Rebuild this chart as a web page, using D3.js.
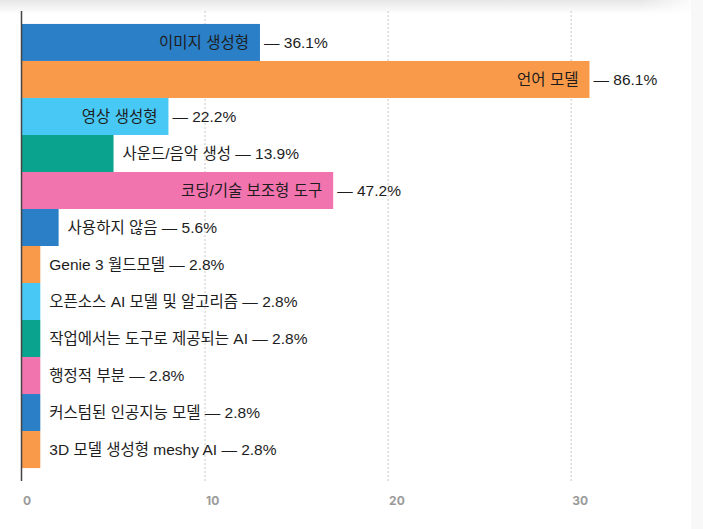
<!DOCTYPE html>
<html>
<head>
<meta charset="utf-8">
<script src="https://cdn.jsdelivr.net/npm/d3@7"></script>
<style>
  html, body { margin: 0; padding: 0; background: #fff; }
  svg { display: block; }
  .lbl { font-family: "Liberation Sans", "Noto Sans CJK KR", sans-serif; font-size: 15.5px; fill: #1d1d1d; }
  .tick-lbl { font-family: Inter, "Noto Sans CJK KR", sans-serif; font-size: 12px; font-weight: 700; fill: #9a9a9a; }
</style>
</head>
<body>
<div id="chart"></div>
<script>
var categories = [
  "이미지 생성형", "언어 모델", "영상 생성형", "사운드/음악 생성", "코딩/기술 보조형 도구",
  "사용하지 않음", "Genie 3 월드모델", "오픈소스 AI 모델 및 알고리즘", "작업에서는 도구로 제공되는 AI",
  "행정적 부분", "커스텀된 인공지능 모델", "3D 모델 생성형 meshy AI"
];
var counts = [13, 31, 8, 5, 17, 2, 1, 1, 1, 1, 1, 1];
var percents = ["36.1%", "86.1%", "22.2%", "13.9%", "47.2%", "5.6%", "2.8%", "2.8%", "2.8%", "2.8%", "2.8%", "2.8%"];
var xTicks = [0, 10, 20, 30];
var palette = ["#2a7fc6", "#f89a4a", "#48c8f5", "#0aa38d", "#f274ae"];

var W = 703, H = 529;
var svg = d3.select("#chart").append("svg").attr("width", W).attr("height", H);

// top shadow of the card above
var defs = svg.append("defs");
var g1 = defs.append("linearGradient").attr("id", "shadowV").attr("x1", 0).attr("y1", 0).attr("x2", 0).attr("y2", 1);
g1.append("stop").attr("offset", "0%").attr("stop-color", "#e6e6e6");
g1.append("stop").attr("offset", "100%").attr("stop-color", "#ffffff");
var g2 = defs.append("linearGradient").attr("id", "fadeH").attr("x1", 0).attr("y1", 0).attr("x2", 1).attr("y2", 0);
g2.append("stop").attr("offset", "0%").attr("stop-color", "#fff").attr("stop-opacity", 0);
g2.append("stop").attr("offset", "100%").attr("stop-color", "#fff").attr("stop-opacity", 1);
svg.append("rect").attr("x", 0).attr("y", 0).attr("width", 700).attr("height", 14).attr("fill", "url(#shadowV)");
svg.append("rect").attr("x", 640).attr("y", 0).attr("width", 60).attr("height", 14).attr("fill", "url(#fadeH)");
svg.append("rect").attr("x", 691).attr("y", 0).attr("width", 12).attr("height", H).attr("fill", "#f8f8f8");

var x = d3.scaleLinear().domain([0, 36]).range([22, 681]);
var y = d3.scaleBand().domain(categories).range([11, 481]).paddingInner(0).paddingOuter(0.35);

// grid lines
svg.append("g").selectAll("line").data(xTicks.slice(1)).join("line")
  .attr("x1", function (d) { return x(d); }).attr("x2", function (d) { return x(d); })
  .attr("y1", 11).attr("y2", 481)
  .attr("stroke", "#c8c8c8").attr("stroke-width", 1).attr("stroke-dasharray", "2,2");

// bars
var rows = svg.append("g").selectAll("g").data(categories).join("g");
rows.append("rect")
  .attr("x", x(0))
  .attr("y", function (d) { return y(d); })
  .attr("width", function (d, i) { return x(counts[i]) - x(0); })
  .attr("height", y.bandwidth())
  .attr("fill", function (d, i) { return palette[i % palette.length]; });

// labels: inside the bar when it fits, percentage always outside
rows.each(function (d, i) {
  var row = d3.select(this);
  var end = x(counts[i]);
  var cy = y(d) + y.bandwidth() / 2;
  var probe = row.append("text").attr("class", "lbl").text(d);
  var tw = probe.node().getComputedTextLength();
  if (tw + 24 < end - x(0)) {
    probe.attr("x", end - 11).attr("y", cy).attr("dy", "0.35em").attr("text-anchor", "end");
    row.append("text").attr("class", "lbl")
      .attr("x", end + 4).attr("y", cy).attr("dy", "0.35em")
      .text("— " + percents[i]);
  } else {
    probe.attr("x", end + 9).attr("y", cy).attr("dy", "0.35em")
      .text(d + " — " + percents[i]);
  }
});

// axis line
svg.append("line").attr("x1", 21.5).attr("x2", 21.5).attr("y1", 11).attr("y2", 481)
  .attr("stroke", "#444").attr("stroke-width", 1.5);

// tick labels
svg.append("g").selectAll("text").data(xTicks).join("text")
  .attr("class", "tick-lbl")
  .attr("x", function (d) { return x(d) + 1; })
  .attr("y", 505)
  .text(function (d) { return d; });
</script>
</body>
</html>
